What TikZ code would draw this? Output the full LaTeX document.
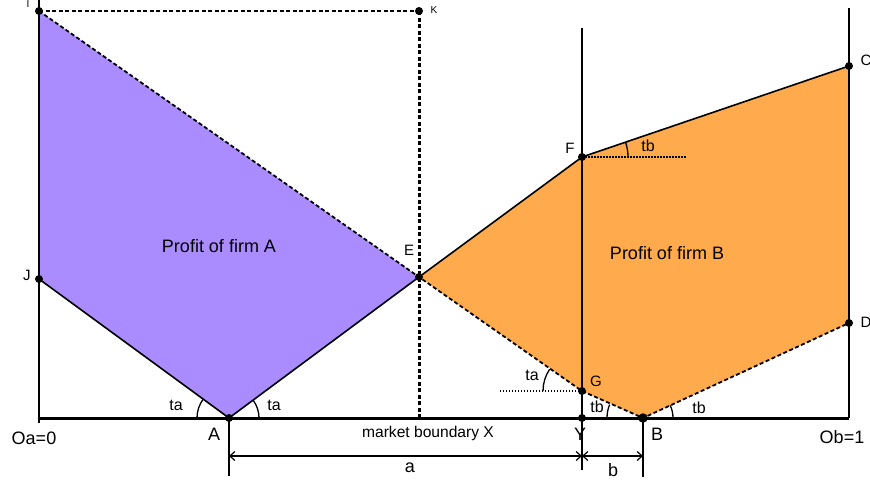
\documentclass[tikz,border=0pt]{standalone}
\usepackage{fontspec}
\setmainfont{Liberation Sans}
\usetikzlibrary{arrows.meta}
\definecolor{pa}{RGB}{170,140,255}
\definecolor{pb}{RGB}{255,170,76}
\begin{document}
\begin{tikzpicture}[x=1pt,y=-1pt,
  dot/.style={circle,fill=black,inner sep=0pt,minimum size=8pt},
  big/.style={font=\fontsize{18}{18}\selectfont,inner sep=0pt},
  mid/.style={font=\fontsize{15}{15}\selectfont,inner sep=0pt},
  small/.style={font=\fontsize{10}{10}\selectfont,inner sep=0pt},
  ang/.style={font=\fontsize{16}{16}\selectfont,inner sep=0pt},
  edge/.style={line width=1.6pt},
  dedge/.style={line width=1.8pt,dash pattern=on 4pt off 2.5pt},
  axis/.style={line width=1.6pt},
  dim/.style={line width=1.2pt,{Straight Barb[length=5pt,width=9pt]}-{Straight Barb[length=5pt,width=9pt]}},
  arcs/.style={line width=1.3pt}]
\useasboundingbox (0,0) rectangle (870,480);
% points
\coordinate (I) at (39,11);
\coordinate (K) at (419,11);
\coordinate (J) at (39,279);
\coordinate (E) at (419,277);
\coordinate (A) at (229,418);
\coordinate (F) at (582,157);
\coordinate (G) at (582,391);
\coordinate (Y) at (582,418);
\coordinate (B) at (643,418);
\coordinate (C) at (849,66);
\coordinate (D) at (849,323);
\coordinate (O) at (39,418);
\coordinate (O1) at (849,418);
\coordinate (Ltop) at (39,0);
\coordinate (Rtop) at (849,8);
\coordinate (Mtop) at (582,28);
\coordinate (Kb) at (419,418);
\coordinate (Fd) at (686,157);
\coordinate (Gd) at (499,391);
\coordinate (At) at (229,476);
\coordinate (Yt) at (582,470);
\coordinate (Bt) at (643,477);
\coordinate (Aa) at (229,456);
\coordinate (Ya) at (582,456);
\coordinate (Ba) at (643,456);
% fills
\fill[pa] (I) -- (E) -- (A) -- (J) -- cycle;
\fill[pb] (E) -- (F) -- (C) -- (D) -- (B) -- (G) -- cycle;
% axes
\draw[axis] (Ltop) -- (O);
\draw[axis] (Rtop) -- (O1);
\draw[axis] (Mtop) -- (Y);
\draw[line width=3pt] (O) -- (O1);
\draw[line width=2.5pt] (O) ++(0,-5pt) -- ++(0,10pt);
% dashed guides
\draw[line width=1.6pt,dash pattern=on 4pt off 2.5pt] (I) -- (K);
\draw[line width=3pt,dash pattern=on 4pt off 2.5pt] (K) -- (Kb);
% edges
\draw[dedge] (I) -- (E) -- (G) -- (B) -- (D);
\draw[edge] (J) -- (A) -- (E) -- (F) -- (C);
% dotted lines
\draw[line width=1.4pt,dash pattern=on 1.5pt off 1.5pt] (F) -- (Fd);
\draw[line width=1.4pt,dash pattern=on 1.5pt off 1.5pt] (G) -- (Gd);
% ticks
\draw[axis] (A) -- (At);
\draw[axis] (Y) -- (Yt);
\draw[axis] (B) -- (Bt);
% dimensions
\draw[dim] (Aa) -- (Ya);
\draw[dim] (Ya) -- (Ba);
% angle arcs
\draw[arcs] (A) ++(180:32pt) arc[start angle=180,end angle=144,radius=32pt];
\draw[arcs] (A) ++(0:30pt) arc[start angle=0,end angle=36,radius=30pt];
\draw[arcs] (F) ++(0:46pt) arc[start angle=0,end angle=19,radius=46pt];
\draw[arcs] (G) ++(180:39pt) arc[start angle=180,end angle=146,radius=39pt];
\draw[arcs] (B) ++(180:36pt) arc[start angle=180,end angle=158,radius=36pt];
\draw[arcs] (B) ++(0:30pt) arc[start angle=0,end angle=25,radius=30pt];
% dots
\foreach \p in {I,K,J,E,A,F,G,Y,C,D}{\node[dot] at (\p) {};}
\node[dot,minimum size=9.5pt] at (B) {};
% labels
\node[small] (lI) at (28,4) {I};
\node[small] (lK) at (434,10) {K};
\node[mid] (lC) at (866,60) {C};
\node[mid] (lJ) at (27,275) {J};
\node[mid] (lE) at (409,250) {E};
\node[mid] (lF) at (570,148) {F};
\node[mid] (lG) at (596,381) {G};
\node[mid] (lD) at (866,322) {D};
\node[big] (lO) at (34,438) {Oa=0};
\node[big] (lA) at (214,434) {A};
\node[font=\fontsize{15.6}{15.6}\selectfont,inner sep=0pt] (lX) at (428,433) {market boundary X};
\node[big] (lY) at (580,434) {Y};
\node[big] (lB) at (657,434) {B};
\node[big] (lO1) at (842,437) {Ob=1};
\node[big] (la) at (410,468) {a};
\node[big] (lb) at (613,470) {b};
\node[ang] (ta1) at (176,405) {ta};
\node[ang] (ta2) at (274,405) {ta};
\node[ang] (tb1) at (648,146) {tb};
\node[ang] (ta3) at (532,375) {ta};
\node[ang] (tb2) at (597,407) {tb};
\node[ang] (tb3) at (699,408) {tb};
\node[font=\fontsize{18}{18}\selectfont,inner sep=0pt] (pA) at (219,246) {Profit of firm A};
\node[font=\fontsize{18}{18}\selectfont,inner sep=0pt] (pB) at (667,253) {Profit of firm B};
\end{tikzpicture}
\end{document}
